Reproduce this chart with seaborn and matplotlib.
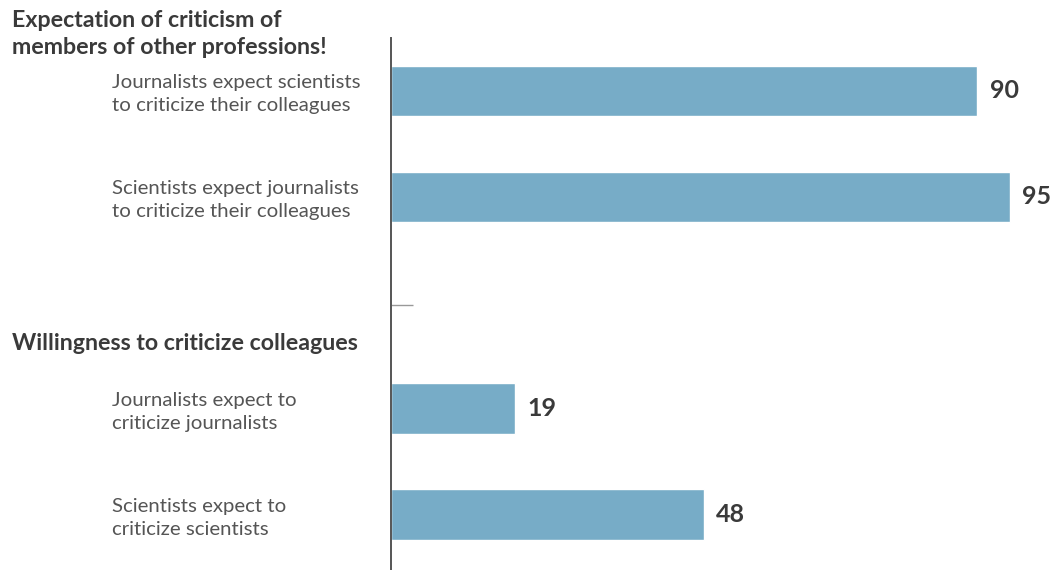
import matplotlib
matplotlib.use("Agg")
import matplotlib.pyplot as plt
import matplotlib.transforms as mtransforms
import seaborn as sns
import pandas as pd

# Survey items and percentages
categories = [
    "Journalists expect scientists\nto criticize their colleagues",
    "Scientists expect journalists\nto criticize their colleagues",
    "Journalists expect to\ncriticize journalists",
    "Scientists expect to\ncriticize scientists",
]
values = [90, 95, 19, 48]
group_titles = [
    "Expectation of criticism of\nmembers of other professions!",
    "Willingness to criticize colleagues",
]
spacer = " "

sns.set_theme(style="white")
plt.rcParams["font.family"] = ["Lato", "DejaVu Sans"]

df = pd.DataFrame({"item": categories, "value": values})
order = categories[:2] + [spacer] + categories[2:]

fig = plt.figure(figsize=(10.53, 5.70), dpi=100)
ax = fig.add_axes([391 / 1053, 0, 651.5 / 1053, 532 / 570])

sns.barplot(data=df, x="value", y="item", order=order, color="#77acc7",
            saturation=1, width=0.48, ax=ax, orient="h")

ax.set_xlim(0, 100)
ax.set_ylim(4.52, -0.5)
ax.set_xlabel("")
ax.set_ylabel("")
ax.set_xticks([])
ax.set_yticks([2.02])
ax.set_yticklabels([""])
ax.tick_params(axis="y", direction="in", length=16, width=1, color="#999999", left=True)
for side in ["top", "right", "bottom"]:
    ax.spines[side].set_visible(False)
ax.spines["left"].set_color("#555555")
ax.spines["left"].set_linewidth(1.4)

for cont in ax.containers:
    ax.bar_label(cont, fmt="%g", padding=9, fontsize=18, fontweight="bold",
                 color="#3a3a3a")

# Item labels, left-aligned in a column left of the axis
trans = mtransforms.blended_transform_factory(fig.transFigure, ax.transData)
for i, lab in enumerate(order):
    if lab.strip():
        ax.text(112 / 1053, i + 0.03, lab, transform=trans, ha="left", va="center",
                fontsize=14.7, color="#555555", linespacing=1.42, clip_on=False)

# Group headings
fig.text(12 / 1053, 1 - 34 / 570, group_titles[0], ha="left", va="center",
         fontsize=16.7, fontweight="bold", color="#3a3a3a", linespacing=1.3)
fig.text(12 / 1053, 1 - 343 / 570, group_titles[1], ha="left", va="center",
         fontsize=16.7, fontweight="bold", color="#3a3a3a")

fig.savefig("out.png", dpi=100, facecolor="white")
